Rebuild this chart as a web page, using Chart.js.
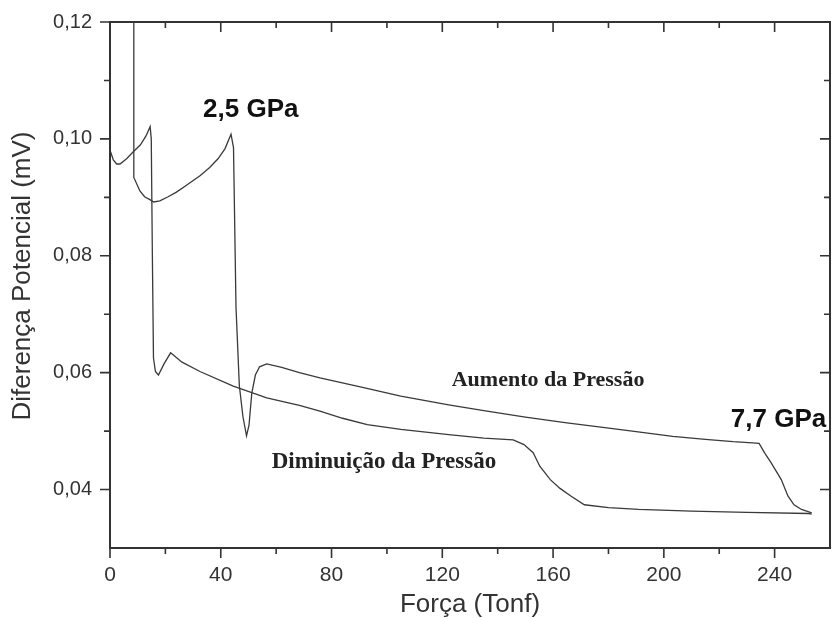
<!DOCTYPE html>
<html lang="pt">
<head>
    <meta charset="UTF-8">
    <title>Diferença Potencial x Força</title>
    <style>
        body { margin: 0; background: #fff; }
        canvas { display: block; }
    </style>
</head>
<body>
<canvas id="myChart" width="832" height="618"></canvas>

<script src="https://cdn.jsdelivr.net/npm/chart.js"></script>
<script>
// tick labels
const xTicks = [0, 40, 80, 120, 160, 200, 240];
const yTicks = [0.04, 0.06, 0.08, 0.10, 0.12];

// Aumento da Pressão (carga)
const incX = [8.6, 8.6, 10.8, 12.5, 14.4, 15.8, 18, 21, 24, 28, 32.5, 36, 39, 41.5, 43.7,
    44.6, 45.5, 46.7, 48, 49.3, 50.2, 51.2, 52.5, 54, 56.6, 62, 68.4, 75.8, 90, 105,
    122.3, 135, 150, 165, 178.7, 190, 203.2, 215, 225, 232, 234.4, 236.5, 238.7, 240.5,
    242.4, 244.8, 247, 249.7, 253.4];
const incY = [0.135, 0.0934, 0.0911, 0.0901, 0.0896, 0.0892, 0.0894, 0.0901, 0.0909, 0.0922, 0.0937, 0.0951, 0.0966, 0.0983, 0.1008,
    0.0985, 0.0712, 0.0578, 0.0525, 0.0492, 0.0510, 0.0565, 0.0596, 0.0610, 0.0615, 0.0609, 0.0600, 0.0591, 0.0576, 0.0560,
    0.0545, 0.0535, 0.0524, 0.0514, 0.0506, 0.0499, 0.0491, 0.0486, 0.0482, 0.0480, 0.0479, 0.0462, 0.0446, 0.0432,
    0.0417, 0.0389, 0.0374, 0.0366, 0.0360];

// Diminuição da Pressão (descarga)
const decX = [253.4, 252.2, 230, 210, 190.9, 180, 171.3, 166.4, 162.5, 159, 155.2, 152.8, 149.5, 145.6,
    135, 122.3, 105, 92.9, 84, 75.8, 68.4, 56.6, 44.5, 32.5, 26, 21.9, 19.5, 17.5, 16.4, 15.7, 15.3,
    14.9, 14.5, 13, 11, 8.4, 6, 3.6, 2.4, 1.2, 0.2];
const decY = [0.0358, 0.0359, 0.0361, 0.0363, 0.0366, 0.0369, 0.0374, 0.0389, 0.0402, 0.0417, 0.0440, 0.0463, 0.0477, 0.0485,
    0.0488, 0.0494, 0.0503, 0.0511, 0.0522, 0.0534, 0.0544, 0.0557, 0.0577, 0.0602, 0.0618, 0.0634, 0.0615, 0.0596, 0.0602, 0.0625, 0.0800,
    0.1000, 0.1021, 0.1005, 0.0990, 0.0978, 0.0966, 0.0957, 0.0957, 0.0964, 0.0978];

const toPoints = (xs, ys) => xs.map((x, i) => ({ x: x, y: ys[i] }));

const SANS = "'Liberation Sans', Arial, sans-serif";
const SERIF = "'Liberation Serif', 'Times New Roman', serif";
const INK = '#333';

// frame + ticks like Origin: out on left/bottom, in on top/right
const framePlugin = {
    id: 'frame',
    afterDraw(chart) {
        const { ctx, chartArea: a } = chart;
        const xs = chart.scales.x, ys = chart.scales.y;
        const major = 10, minor = 6;
        ctx.save();
        ctx.strokeStyle = INK;
        ctx.lineWidth = 2;
        ctx.strokeRect(a.left, a.top, a.right - a.left, a.bottom - a.top);
        ctx.lineWidth = 1.6;
        ctx.beginPath();
        for (let i = 0; i < xTicks.length; i++) {
            const v = xTicks[i];
            const px = xs.getPixelForValue(v);
            ctx.moveTo(px, a.bottom); ctx.lineTo(px, a.bottom + major);
            ctx.moveTo(px, a.top); ctx.lineTo(px, a.top + major);
            const m = xs.getPixelForValue(v + 20);
            if (m < a.right) {
                ctx.moveTo(m, a.bottom); ctx.lineTo(m, a.bottom + minor);
                ctx.moveTo(m, a.top); ctx.lineTo(m, a.top + minor);
            }
        }
        for (let i = 0; i < yTicks.length; i++) {
            const v = yTicks[i];
            const py = ys.getPixelForValue(v);
            ctx.moveTo(a.left, py); ctx.lineTo(a.left - major, py);
            ctx.moveTo(a.right, py); ctx.lineTo(a.right - major, py);
            const m = ys.getPixelForValue(v - 0.01);
            if (m < a.bottom) {
                ctx.moveTo(a.left, m); ctx.lineTo(a.left - minor, m);
                ctx.moveTo(a.right, m); ctx.lineTo(a.right - minor, m);
            }
        }
        ctx.stroke();

        // y axis title (placed a bit above the centre, as in the original)
        ctx.save();
        ctx.translate(23, 276);
        ctx.rotate(-Math.PI / 2);
        ctx.fillStyle = INK;
        ctx.font = '26px ' + SANS;
        ctx.textAlign = 'center';
        ctx.textBaseline = 'middle';
        ctx.fillText('Diferença Potencial (mV)', 0, 0);
        ctx.restore();

        // annotations
        ctx.fillStyle = '#111';
        ctx.textBaseline = 'alphabetic';
        ctx.textAlign = 'left';
        ctx.font = 'bold 26px ' + SANS;
        ctx.fillText('2,5 GPa', xs.getPixelForValue(33.6), ys.getPixelForValue(0.1037));
        ctx.fillText('7,7 GPa', xs.getPixelForValue(224.2), ys.getPixelForValue(0.0507));
        ctx.fillStyle = '#222';
        ctx.font = 'bold 22px ' + SERIF;
        ctx.fillText('Aumento da Pressão', xs.getPixelForValue(123.4), ys.getPixelForValue(0.0577));
        ctx.font = 'bold 23px ' + SERIF;
        ctx.fillText('Diminuição da Pressão', xs.getPixelForValue(58.4), ys.getPixelForValue(0.0437));
        ctx.restore();
    }
};

const ctx = document.getElementById('myChart').getContext('2d');
const myChart = new Chart(ctx, {
    type: 'scatter',
    data: {
        datasets: [{
            label: 'Aumento da Pressão',
            data: toPoints(incX, incY),
            showLine: true,
            borderColor: '#3a3a3a',
            borderWidth: 1.3,
            pointRadius: 0,
            tension: 0
        }, {
            label: 'Diminuição da Pressão',
            data: toPoints(decX, decY),
            showLine: true,
            borderColor: '#3a3a3a',
            borderWidth: 1.3,
            pointRadius: 0,
            tension: 0
        }]
    },
    options: {
        responsive: false,
        animation: false,
        layout: { padding: { left: 0, right: 2, top: 22, bottom: 0 } },
        plugins: {
            legend: { display: false },
            tooltip: { enabled: false }
        },
        scales: {
            x: {
                type: 'linear',
                min: 0,
                max: 260,
                afterBuildTicks: s => { s.ticks = xTicks.map(v => ({ value: v })); },
                afterFit: s => { s.height = 70; s.paddingLeft = 0; s.paddingRight = 0; },
                grid: { display: false, drawTicks: false },
                border: { display: false },
                ticks: {
                    padding: 15,
                    color: INK,
                    font: { family: SANS, size: 21 },
                    maxRotation: 0
                },
                title: {
                    display: true,
                    text: 'Força (Tonf)',
                    color: INK,
                    font: { family: SANS, size: 26 },
                    padding: { top: 0, bottom: -2 }
                }
            },
            y: {
                type: 'linear',
                min: 0.03,
                max: 0.12,
                afterBuildTicks: s => { s.ticks = yTicks.map(v => ({ value: v })); },
                afterFit: s => { s.width = 110; s.paddingTop = 0; s.paddingBottom = 0; },
                grid: { display: false, drawTicks: false },
                border: { display: false },
                ticks: {
                    padding: 18,
                    color: INK,
                    font: { family: SANS, size: 20 },
                    callback: v => v.toFixed(2).replace('.', ',')
                }
            }
        }
    },
    plugins: [framePlugin]
});
</script>
</body>
</html>
